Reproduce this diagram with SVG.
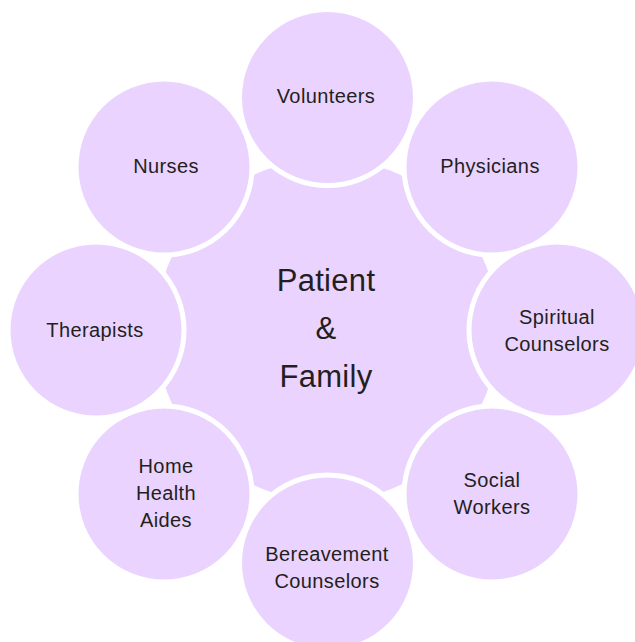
<svg xmlns="http://www.w3.org/2000/svg" width="635" height="642" viewBox="0 0 635 642">
<style>
.c{fill:#EAD3FE;stroke:#FFFFFF;stroke-width:5}
.t{font-family:"Liberation Sans",Arial,sans-serif;font-size:20px;letter-spacing:0.4px;fill:#231F20;text-anchor:middle}
.m{font-family:"Liberation Sans",Arial,sans-serif;font-size:31px;letter-spacing:0.3px;fill:#231F20;text-anchor:middle}
</style>
<rect width="635" height="642" fill="#FFFFFF"/>
<g id="center"><circle class="c" cx="327" cy="330" r="174"/>
<text class="m" x="326" y="291">Patient</text><text class="m" x="326" y="339">&amp;</text><text class="m" x="326" y="387">Family</text></g>
<g id="connectors"/>
<g id="volunteers"><circle class="c" cx="327.5" cy="97.5" r="88"/><text class="t" x="326" y="103">Volunteers</text></g>
<g id="physicians"><circle class="c" cx="492" cy="167" r="88"/><text class="t" x="490" y="173">Physicians</text></g>
<g id="spiritual"><circle class="c" cx="557" cy="330" r="88"/><text class="t" x="557" y="324">Spiritual</text><text class="t" x="557" y="351">Counselors</text></g>
<g id="social"><circle class="c" cx="492" cy="494" r="88"/><text class="t" x="492" y="487">Social</text><text class="t" x="492" y="514">Workers</text></g>
<g id="bereavement"><circle class="c" cx="327.5" cy="563" r="88"/><text class="t" x="327" y="561">Bereavement</text><text class="t" x="327" y="588">Counselors</text></g>
<g id="homehealth"><circle class="c" cx="164" cy="494" r="88"/><text class="t" x="166" y="473">Home</text><text class="t" x="166" y="500">Health</text><text class="t" x="166" y="527">Aides</text></g>
<g id="therapists"><circle class="c" cx="96" cy="330" r="88"/><text class="t" x="95" y="337">Therapists</text></g>
<g id="nurses"><circle class="c" cx="164" cy="167" r="88"/><text class="t" x="166" y="173">Nurses</text></g>
</svg>
